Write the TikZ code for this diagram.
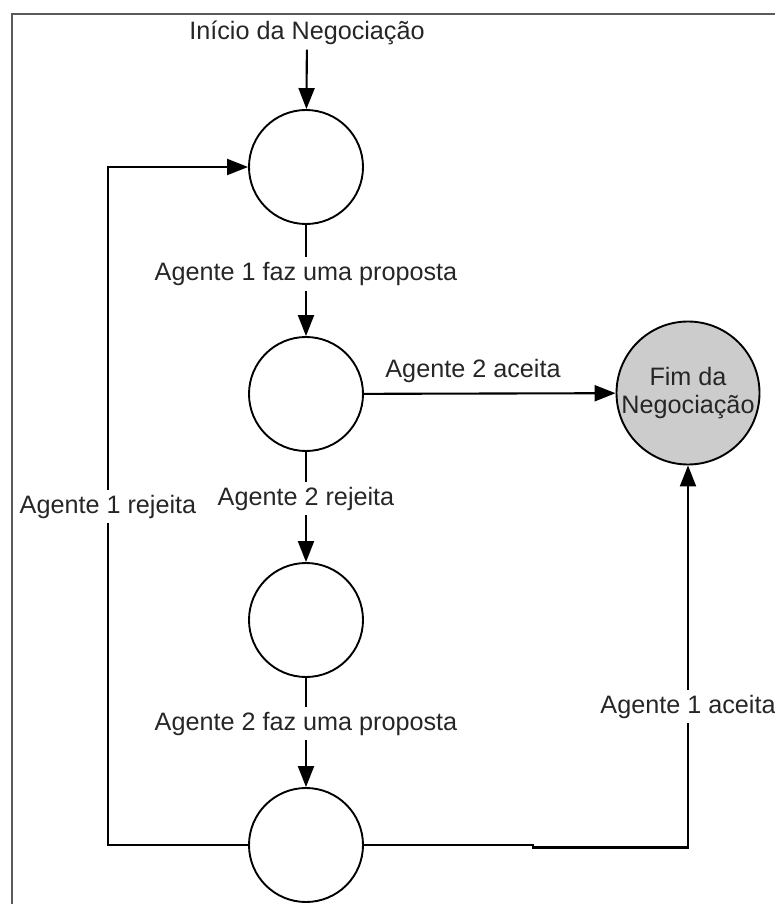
\documentclass[tikz,border=0pt]{standalone}
\usepackage{fontspec}
\setmainfont{Liberation Sans}
\usetikzlibrary{arrows.meta}
\definecolor{txt}{HTML}{262626}
\definecolor{endfill}{HTML}{CCCCCC}
\definecolor{framecol}{HTML}{5A5A5A}
\begin{document}
\begin{tikzpicture}[x=1pt,y=-1pt,
  every node/.style={font=\fontsize{25.2pt}{28.5pt}\selectfont, text=txt},
  state/.style={circle, draw=black, line width=1.9pt, minimum size=114pt, inner sep=0pt},
  endstate/.style={circle, draw=black, line width=1.9pt, fill=endfill, minimum size=143pt, inner sep=0pt, align=center},
  lbl/.style={inner sep=4.5pt, text height=18.6pt, text depth=5.3pt},
  conn/.style={draw=black, line width=2.1pt},
  arr/.style={conn, -{Triangle[length=21pt,width=16pt]}}]
\useasboundingbox (0,0) rectangle (775,904);

% outer frame
\draw[framecol, line width=2pt] (12,904) -- (12,14) -- (775,14);

% states
\node[state] (c1) at (306,167) {};
\node[state] (c2) at (306,394) {};
\node[state] (c3) at (306,620) {};
\node[state] (c4) at (306,845) {};
\node[endstate] (fim) at (688,393) {Fim da\\Negociação};

% texts
\node[lbl] (start) at (307,33) {Início da Negociação};
\node[lbl] (l1) at (306,274) {Agente 1 faz uma proposta};
\node[lbl] (acc2) at (473,371) {Agente 2 aceita};
\node[lbl] (l2) at (306,498.5) {Agente 2 rejeita};
\node[lbl] (l3) at (306,723.5) {Agente 2 faz uma proposta};
\node[lbl] (l4) at (108,506.5) {Agente 1 rejeita};
\node[lbl] (l5) at (688,706.5) {Agente 1 aceita};

% connectors
\draw[arr] (start) -- (c1);
\draw[conn] (c1) -- (l1);
\draw[arr] (l1) -- (c2);
\draw[arr] (c2) -- (fim);
\draw[conn] (c2) -- (l2);
\draw[arr] (l2) -- (c3);
\draw[conn] (c3) -- (l3);
\draw[arr] (l3) -- (c4);
\draw[conn] (c4.west) -| (l4.south);
\draw[arr] (l4.north) |- (c1.west);
\draw[conn] (c4.east) -- ++(169,0) -- ++(0,2.5) -| (l5.south);
\draw[arr] (l5.north) -- (fim.south);
\end{tikzpicture}
\end{document}
